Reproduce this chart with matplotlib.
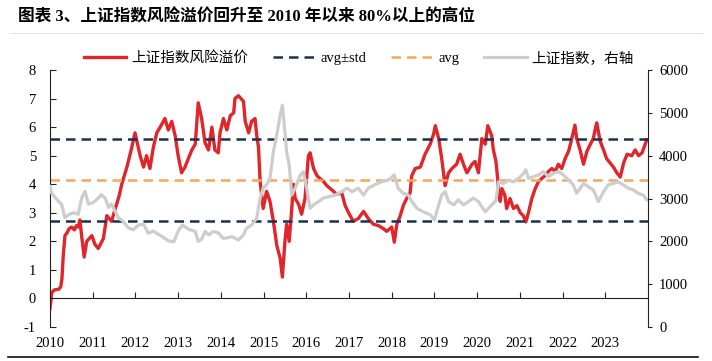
import matplotlib
matplotlib.use("Agg")
import matplotlib.pyplot as plt
from matplotlib.lines import Line2D

# 上证指数风险溢价 (左轴), 时间用小数年份
red_t = [2010.00, 2010.02, 2010.04, 2010.10, 2010.20, 2010.25, 2010.28, 2010.31, 2010.35, 2010.40,
         2010.45, 2010.51, 2010.57, 2010.62, 2010.66, 2010.70, 2010.74, 2010.80, 2010.86, 2010.92,
         2010.98, 2011.05, 2011.13, 2011.20, 2011.25, 2011.33, 2011.44, 2011.56, 2011.62, 2011.68,
         2011.74, 2011.80, 2011.90, 2011.99, 2012.05, 2012.11, 2012.19, 2012.26, 2012.34, 2012.42,
         2012.50, 2012.58, 2012.69, 2012.77, 2012.85, 2012.93, 2013.00, 2013.08, 2013.16, 2013.24,
         2013.32, 2013.40, 2013.47, 2013.55, 2013.63, 2013.71, 2013.79, 2013.86, 2013.94, 2013.98,
         2014.06, 2014.14, 2014.22, 2014.30, 2014.33, 2014.41, 2014.53, 2014.57, 2014.65, 2014.72,
         2014.80, 2014.84, 2014.88, 2014.92, 2014.99, 2015.07, 2015.15, 2015.23, 2015.31, 2015.39,
         2015.44, 2015.50, 2015.54, 2015.60, 2015.66, 2015.70, 2015.74, 2015.82, 2015.89, 2015.97,
         2016.05, 2016.09, 2016.17, 2016.25, 2016.32, 2016.40, 2016.48, 2016.60, 2016.71, 2016.83,
         2016.91, 2016.99, 2017.10, 2017.22, 2017.34, 2017.45, 2017.57, 2017.69, 2017.80, 2017.88,
         2018.00, 2018.06, 2018.12, 2018.20, 2018.27, 2018.35, 2018.43, 2018.47, 2018.55, 2018.67,
         2018.78, 2018.90, 2018.98, 2019.02, 2019.10, 2019.17, 2019.25, 2019.33, 2019.41, 2019.52,
         2019.60, 2019.68, 2019.76, 2019.88, 2019.95, 2020.03, 2020.11, 2020.19, 2020.25, 2020.34,
         2020.38, 2020.44, 2020.48, 2020.50, 2020.54, 2020.58, 2020.65, 2020.69, 2020.77, 2020.85,
         2020.93, 2021.01, 2021.08, 2021.14, 2021.20, 2021.28, 2021.36, 2021.44, 2021.51, 2021.59,
         2021.67, 2021.75, 2021.83, 2021.90, 2021.98, 2022.06, 2022.14, 2022.20, 2022.29, 2022.33,
         2022.41, 2022.49, 2022.57, 2022.65, 2022.72, 2022.76, 2022.80, 2022.88, 2022.96, 2023.03,
         2023.11, 2023.19, 2023.27, 2023.35, 2023.43, 2023.51, 2023.62, 2023.70, 2023.78, 2023.86,
         2023.97]
red_v = [-0.35, -0.10, 0.20, 0.30, 0.32, 0.40, 0.70, 1.50, 2.20, 2.30,
         2.45, 2.50, 2.40, 2.55, 2.50, 2.75, 2.20, 1.45, 2.00, 2.10,
         2.20, 1.90, 1.75, 1.95, 2.10, 2.90, 2.70, 3.30, 3.60, 4.00,
         4.30, 4.60, 5.20, 5.80, 5.40, 5.00, 4.60, 5.00, 4.55, 5.30,
         5.80, 6.00, 6.30, 5.90, 6.20, 5.70, 5.00, 4.40, 4.60, 4.90,
         5.20, 5.40, 6.85, 6.30, 5.45, 5.20, 6.00, 5.20, 5.10, 5.80,
         6.30, 5.90, 6.40, 6.50, 7.00, 7.10, 6.90, 6.20, 5.80, 6.20,
         6.30, 5.70, 5.30, 4.10, 3.15, 3.75, 3.40, 2.70, 1.85, 1.40,
         0.75, 2.00, 2.60, 2.00, 3.15, 4.00, 3.50, 3.30, 2.95, 3.50,
         5.00, 5.10, 4.55, 4.30, 4.20, 4.10, 3.95, 3.80, 3.65, 3.70,
         3.25, 3.00, 2.70, 2.80, 3.05, 2.80, 2.60, 2.55, 2.45, 2.35,
         2.50, 1.97, 2.60, 2.90, 3.25, 3.50, 3.70, 4.30, 4.55, 4.60,
         5.05, 5.40, 5.75, 6.05, 5.60, 4.90, 3.95, 4.40, 4.55, 4.70,
         5.05, 4.70, 4.40, 4.70, 4.80, 4.40, 5.60, 5.40, 6.05, 5.70,
         5.20, 4.80, 4.20, 3.73, 3.40, 3.85, 3.60, 3.15, 3.50, 3.15,
         3.25, 3.00, 2.90, 2.68, 3.00, 3.50, 3.85, 4.10, 4.20, 4.30,
         4.45, 4.55, 4.45, 4.70, 4.55, 4.90, 5.15, 5.50, 6.07, 5.60,
         5.20, 4.70, 5.15, 5.40, 5.60, 5.90, 6.15, 5.50, 5.20, 4.90,
         4.75, 4.60, 4.40, 4.25, 4.75, 5.05, 5.00, 5.20, 5.00, 5.10,
         5.55]

# 上证指数 (右轴)
sh_t = [2010.00, 2010.04, 2010.10, 2010.18, 2010.27, 2010.35, 2010.45, 2010.55, 2010.66, 2010.74,
        2010.82, 2010.90, 2011.00, 2011.10, 2011.20, 2011.29, 2011.37, 2011.44, 2011.52, 2011.60,
        2011.70, 2011.83, 2011.95, 2012.07, 2012.19, 2012.30, 2012.42, 2012.54, 2012.66, 2012.77,
        2012.90, 2013.00, 2013.10, 2013.25, 2013.40, 2013.47, 2013.55, 2013.63, 2013.72, 2013.82,
        2013.94, 2014.05, 2014.14, 2014.26, 2014.41, 2014.53, 2014.60, 2014.72, 2014.84, 2014.92,
        2014.99, 2015.07, 2015.15, 2015.23, 2015.31, 2015.39, 2015.44, 2015.50, 2015.54, 2015.60,
        2015.66, 2015.74, 2015.86, 2015.93, 2016.01, 2016.09, 2016.17, 2016.29, 2016.40, 2016.52,
        2016.67, 2016.83, 2016.95, 2017.07, 2017.22, 2017.34, 2017.45, 2017.60, 2017.76, 2017.92,
        2018.06, 2018.15, 2018.27, 2018.39, 2018.47, 2018.59, 2018.74, 2018.90, 2019.00, 2019.10,
        2019.17, 2019.25, 2019.33, 2019.45, 2019.56, 2019.68, 2019.80, 2019.91, 2020.03, 2020.19,
        2020.34, 2020.44, 2020.50, 2020.62, 2020.73, 2020.85, 2020.97, 2021.09, 2021.14, 2021.20,
        2021.32, 2021.44, 2021.55, 2021.67, 2021.79, 2021.90, 2022.02, 2022.14, 2022.25, 2022.33,
        2022.41, 2022.49, 2022.61, 2022.72, 2022.84, 2022.96, 2023.07, 2023.19, 2023.30, 2023.42,
        2023.54, 2023.66, 2023.77, 2023.89, 2023.97]
sh_v = [3280, 3120, 3050, 2950, 2870, 2550, 2630, 2670, 2630, 3010,
        3170, 2870, 2900, 2980, 3090, 3010, 2790, 2870, 2710, 2550,
        2480, 2320, 2270, 2380, 2400, 2190, 2240, 2160, 2090, 2010,
        1990, 2240, 2380, 2280, 2230, 2000, 2050, 2230, 2150, 2230,
        2200, 2070, 2080, 2110, 2030, 2150, 2305, 2380, 2540, 3010,
        3240, 3320, 3470, 4090, 4490, 4950, 5180, 4560, 4090, 3780,
        3080, 3240, 3550, 3620, 3240, 2770, 2850, 2930, 3010, 3040,
        3080, 3160, 3240, 3160, 3240, 3080, 3240, 3320, 3390, 3430,
        3550, 3240, 3120, 3080, 2930, 2770, 2690, 2620, 2500, 2850,
        3080, 3160, 2930, 2850, 2970, 2850, 2930, 3010, 2930, 2690,
        2850, 2950, 3390, 3350, 3430, 3390, 3470, 3590, 3670, 3470,
        3510, 3550, 3630, 3510, 3590, 3630, 3550, 3430, 3320, 3120,
        3240, 3350, 3270, 3200, 2930, 3160, 3320, 3350, 3390, 3320,
        3240, 3200, 3120, 3080, 2970]

avg = 4.14
std = 1.43
years = list(range(2010, 2024))

title = "图表 3、上证指数风险溢价回升至 2010 年以来 80%以上的高位"
labels = ["上证指数风险溢价", "avg±std", "avg", "上证指数，右轴"]

plt.rcParams['font.family'] = ['Liberation Serif', 'Noto Sans CJK SC']
plt.rcParams['axes.unicode_minus'] = False

W, H = 712, 361
fig = plt.figure(figsize=(W / 100, H / 100), dpi=100)
ax = fig.add_axes([50 / W, 1 - 327 / H, 598 / W, 257 / H])
ax2 = ax.twinx()

red_line, = ax.plot(red_t, red_v, color='#E0262A', lw=2.4)
std_line = ax.axhline(avg + std, color='#1B2F52', lw=1.8, dashes=(3.8, 2.4))
ax.axhline(avg - std, color='#1B2F52', lw=1.8, dashes=(3.8, 2.4))
avg_line = ax.axhline(avg, color='#F3A85C', lw=1.8, dashes=(3.8, 2.4))
sh_line, = ax2.plot(sh_t, sh_v, color='#CDCDCD', lw=2.3)

ax.set_xlim(2010, 2024)
ax.set_ylim(-1, 8)
ax2.set_ylim(0, 6000)
ax.set_xticks(years)
ax.set_xticklabels([str(y) for y in years])
ax.set_yticks(range(-1, 9))
ax2.set_yticks(range(0, 6001, 1000))

for s in ['top', 'right']:
    ax.spines[s].set_visible(False)
for s in ['top', 'left', 'bottom']:
    ax2.spines[s].set_visible(False)
ax.spines['bottom'].set_position(('data', 0))
ax.spines['bottom'].set_color('#222222')
ax.spines['left'].set_color('#222222')
ax2.spines['right'].set_color('#222222')

ax.tick_params(axis='x', direction='in', length=4, pad=28, labelsize=10.5, color='#222222')
ax.tick_params(axis='y', direction='in', length=4, pad=10, labelsize=10.5, color='#222222')
ax2.tick_params(axis='y', direction='out', length=3, pad=5, labelsize=10.5, color='#222222')

fig.legend([red_line, std_line, avg_line, sh_line], labels, ncol=4, loc='center',
           bbox_to_anchor=(359 / W, 1 - 58 / H), frameon=False, fontsize=10.5,
           handlelength=2.9, handletextpad=0.35, columnspacing=1.7)

fig.text(18 / W, 1 - 17 / H, title, fontsize=12, fontweight='bold', va='center', ha='left')
fig.add_artist(Line2D([10 / W, 702 / W], [1 - 33 / H] * 2, color='#DDDDDD', lw=0.6))
fig.add_artist(Line2D([8 / W, 698 / W], [1 - 357 / H] * 2, color='#111111', lw=1.2))

fig.savefig("out.png", dpi=100)
